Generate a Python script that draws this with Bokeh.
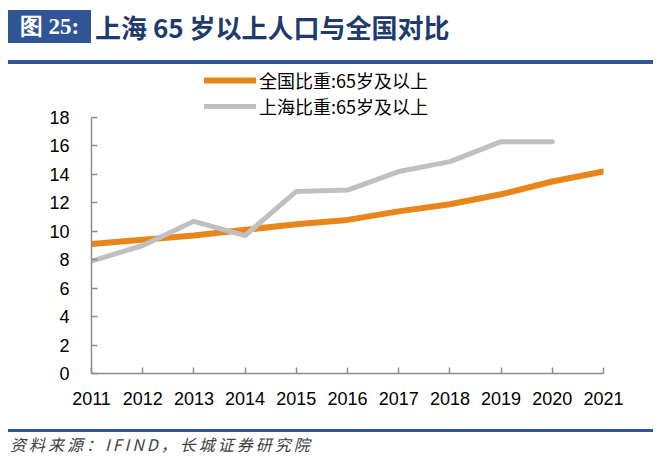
from bokeh.plotting import figure
from bokeh.models import (ColumnDataSource, Range1d, Div, FixedTicker, Legend, LegendItem)
from bokeh.embed import file_html
from bokeh.resources import INLINE

years = [2011, 2012, 2013, 2014, 2015, 2016, 2017, 2018, 2019, 2020, 2021]
national = [9.1, 9.4, 9.7, 10.1, 10.5, 10.8, 11.4, 11.9, 12.6, 13.5, 14.2]
sh_years = [2011, 2012, 2013, 2014, 2015, 2016, 2017, 2018, 2019, 2020]
shanghai = [7.9, 9.0, 10.7, 9.7, 12.8, 12.9, 14.2, 14.9, 16.3, 16.3]
y_ticks = [0, 2, 4, 6, 8, 10, 12, 14, 16, 18]
name_national = "全国比重:65岁及以上"
name_shanghai = "上海比重:65岁及以上"
title_tag = "图 25:"
title_text = "上海 65 岁以上人口与全国对比"
source_text = "资料来源：IFIND，长城证券研究院"

FONT = "Liberation Sans"
CJK = "Noto Sans CJK SC"
BLUE = "#2F5597"
ORANGE = "#E8861C"
GREY = "#C0C0C0"
W = 652
HH = 68

header = Div(width=W, height=HH, margin=0, text=f"""<div style="position:relative;width:{W}px;height:{HH}px;">
<div style="position:absolute;left:8px;top:10px;width:83px;height:33px;background:{BLUE};color:#ffffff;font-family:'Liberation Serif';font-weight:bold;font-size:23px;line-height:33px;text-align:center;white-space:nowrap;">{title_tag}</div>
<div style="position:absolute;left:95px;top:10px;height:33px;line-height:33px;color:#1F3A6E;font-family:'{CJK}';font-weight:bold;font-size:26px;white-space:nowrap;">{title_text}</div>
<div style="position:absolute;left:8px;top:60px;width:645px;height:4px;background:{BLUE};"></div>
</div>""")

# frame spans 305 px; 0..18 occupies 256 px, the space above holds the legend
p = figure(width=W, height=357, output_backend="svg", toolbar_location=None,
           x_range=Range1d(2011, 2021), y_range=Range1d(0, 18 * 305 / 256),
           min_border_left=91, min_border_right=49, min_border_top=0,
           min_border_bottom=52, outline_line_color=None)
p.xgrid.visible = False
p.ygrid.visible = False

src_n = ColumnDataSource(dict(x=years, y=national))
src_s = ColumnDataSource(dict(x=sh_years, y=shanghai))
r_n = p.line("x", "y", source=src_n, line_color=ORANGE, line_width=6, line_cap="round", line_join="round")
r_s = p.line("x", "y", source=src_s, line_color=GREY, line_width=5, line_cap="round", line_join="round")

for ax in (p.xaxis[0], p.yaxis[0]):
    ax.axis_line_color = "#8C8C8C"
    ax.axis_line_width = 1.5
    ax.major_tick_line_color = "#8C8C8C"
    ax.major_tick_line_width = 1.5
    ax.major_tick_in = 6
    ax.major_tick_out = 0
    ax.minor_tick_line_color = None
    ax.major_label_text_font = FONT
    ax.major_label_text_font_size = "18px"
    ax.major_label_text_color = "#000000"

p.xaxis.ticker = FixedTicker(ticks=years)
p.yaxis.ticker = FixedTicker(ticks=y_ticks)
p.yaxis.bounds = (0, 18)
p.xaxis.major_label_standoff = 18
p.yaxis.major_label_standoff = 22

legend = Legend(items=[LegendItem(label=name_national, renderers=[r_n]),
                       LegendItem(label=name_shanghai, renderers=[r_s])],
                location=(113, 254), orientation="vertical",
                border_line_color=None, background_fill_alpha=0,
                padding=0, margin=0, spacing=0,
                glyph_width=52, glyph_height=20, label_standoff=3,
                label_text_font=CJK, label_text_font_size="18px",
                label_text_color="#000000", label_height=20)
p.add_layout(legend, "center")

footer = Div(width=W, height=35, margin=0, text=f"""<div style="position:relative;width:{W}px;height:35px;">
<div style="position:absolute;left:8px;top:4px;width:645px;height:3px;background:{BLUE};"></div>
<div style="position:absolute;left:10px;top:11px;line-height:17px;color:#404040;font-family:'{CJK}';font-style:italic;font-size:16px;letter-spacing:3px;white-space:nowrap;">{source_text}</div>
</div>""")

open("out.html", "w").write(file_html([header, p, footer], INLINE))
